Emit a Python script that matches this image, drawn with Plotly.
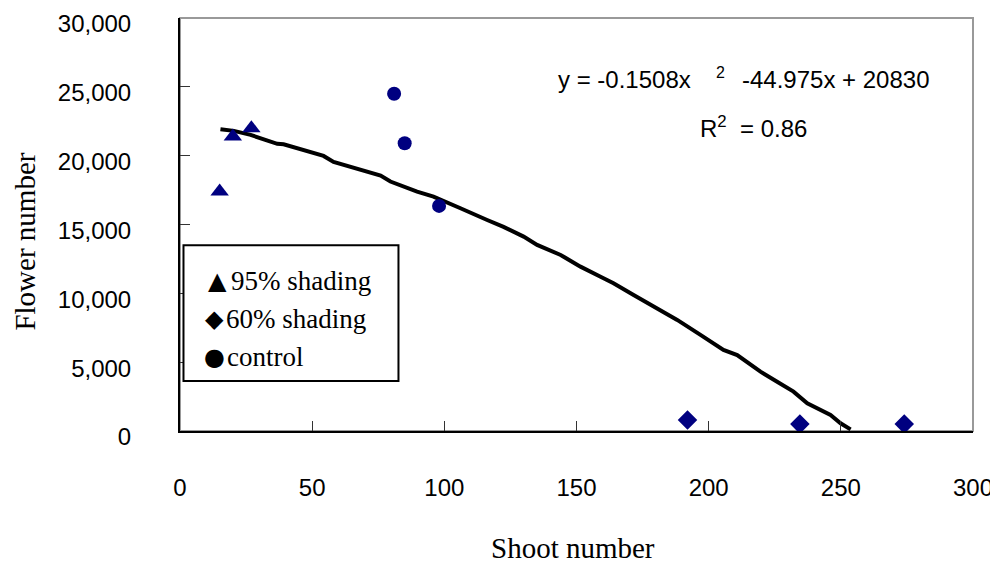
import plotly.graph_objects as go

# ---- data ----
shade95_x = [15, 20, 27]
shade95_y = [17400, 21400, 22000]
shade60_x = [192, 234.5, 274]
shade60_y = [800, 500, 500]
control_x = [81, 85, 98]
control_y = [24500, 20900, 16350]

# polynomial trendline as drawn
fit_x = [15.3, 20.4, 26.7, 36.8, 39.2, 54.3, 58.1, 64.5, 75.9, 79.6, 89.7, 95.9, 98.6,
         106.1, 116.2, 122.4, 130.0, 135.1, 144.0, 151.5, 159.1, 164.0, 171.6, 180.5,
         188.1, 196.9, 205.6, 210.8, 219.6, 225.9, 232.1, 237.3, 246.1, 249.9, 253.7]
fit_y = [21925, 21800, 21510, 20860, 20830, 19980, 19550, 19210, 18550, 18120, 17390,
         17030, 16790, 16180, 15330, 14830, 14120, 13520, 12790, 11940, 11210, 10730,
         9880, 8920, 8070, 6980, 5890, 5520, 4310, 3580, 2860, 2010, 1160, 560, 120]

x_ticks = [0, 50, 100, 150, 200, 250, 300]
y_ticks = [0, 5000, 10000, 15000, 20000, 25000, 30000]

legend_labels = ["95% shading", "60% shading", "control"]
legend_glyphs = ["\u25B2", "\u25C6", "\u25CF"]

NAVY = "#000080"
SANS = "Liberation Sans, Arial, sans-serif"
SERIF = "Liberation Serif, Times New Roman, serif"

fig = go.Figure()
fig.add_trace(go.Scatter(x=fit_x, y=fit_y, mode="lines",
                         line=dict(color="black", width=4), showlegend=False,
                         name="trend"))
fig.add_trace(go.Scatter(x=shade95_x, y=shade95_y, mode="markers", name="95% shading",
                         marker=dict(symbol="triangle-up", size=16, color=NAVY),
                         showlegend=False))
fig.add_trace(go.Scatter(x=shade60_x, y=shade60_y, mode="markers", name="60% shading",
                         marker=dict(symbol="diamond", size=15, color=NAVY),
                         showlegend=False))
fig.add_trace(go.Scatter(x=control_x, y=control_y, mode="markers", name="control",
                         marker=dict(symbol="circle", size=14, color=NAVY),
                         showlegend=False))

axis_common = dict(showline=True, linecolor="black", linewidth=2, ticks="inside",
                   ticklen=10, tickwidth=1, tickcolor="#333", showgrid=False,
                   zeroline=False, automargin=False, ticklabeloverflow="allow",
                   tickfont=dict(family=SANS, size=24, color="black"))

fig.update_xaxes(range=[0, 300], tickvals=x_ticks, ticklabelstandoff=34, **axis_common)
fig.update_yaxes(range=[0, 30000], tickvals=y_ticks, tickformat=",",
                 ticklabelstandoff=42, ticklabelshift=6, **axis_common)

# frame (grey top/right edges)
fig.add_shape(type="rect", xref="paper", yref="paper", x0=0, x1=1, y0=0, y1=1,
              line=dict(color="#999", width=2), layer="below")

# legend box
fig.add_shape(type="rect", xref="paper", yref="paper", x0=0.0044, x1=0.2755,
              y0=0.121, y1=0.450, line=dict(color="black", width=2),
              fillcolor="white", layer="above")

ann = []
row_y = [0.3632, 0.270, 0.178]
glyph_x = [0.0470, 0.0430, 0.0440]
text_x = [0.0620, 0.0560, 0.0570]
for g, lab, ry, gx, tx in zip(legend_glyphs, legend_labels, row_y, glyph_x, text_x):
    ann.append(dict(text=g, x=gx, y=ry, xref="paper", yref="paper", xanchor="center",
                    yanchor="middle", showarrow=False,
                    font=dict(family="DejaVu Sans", size=24, color="black")))
    ann.append(dict(text=lab, x=tx, y=ry, xref="paper", yref="paper", xanchor="left",
                    yanchor="middle", showarrow=False,
                    font=dict(family=SERIF, size=27, color="black")))

# equation
ann.append(dict(text="y = -0.1508x", x=0.6475, y=0.850, xref="paper", yref="paper",
                xanchor="right", yanchor="middle", showarrow=False,
                font=dict(family=SANS, size=24, color="black")))
ann.append(dict(text="2", x=0.6816, y=0.867, xref="paper", yref="paper",
                xanchor="center", yanchor="middle", showarrow=False,
                font=dict(family=SANS, size=16, color="black")))
ann.append(dict(text="-44.975x + 20830", x=0.7068, y=0.850, xref="paper", yref="paper",
                xanchor="left", yanchor="middle", showarrow=False,
                font=dict(family=SANS, size=24, color="black")))
ann.append(dict(text="R<sup>2</sup>\u00a0 = 0.86", x=0.6538, y=0.736, xref="paper",
                yref="paper", xanchor="left", yanchor="middle", showarrow=False,
                font=dict(family=SANS, size=24, color="black")))

# axis titles
ann.append(dict(text="Shoot number", x=0.495, y=-0.283, xref="paper", yref="paper",
                xanchor="center", yanchor="middle", showarrow=False,
                font=dict(family=SERIF, size=29, color="black")))
ann.append(dict(text="Flower number", x=-0.1960, y=0.4576, xref="paper", yref="paper",
                xanchor="center", yanchor="middle", showarrow=False, textangle=-90,
                font=dict(family=SERIF, size=29, color="black")))

# page body has an 8px margin, so offset the plot area by -8px to land where the reference has it
fig.update_layout(width=998, height=563, margin=dict(l=172, r=33, t=10, b=140),
                  plot_bgcolor="white", paper_bgcolor="white", annotations=ann,
                  showlegend=False)

fig.write_html("out.html")
